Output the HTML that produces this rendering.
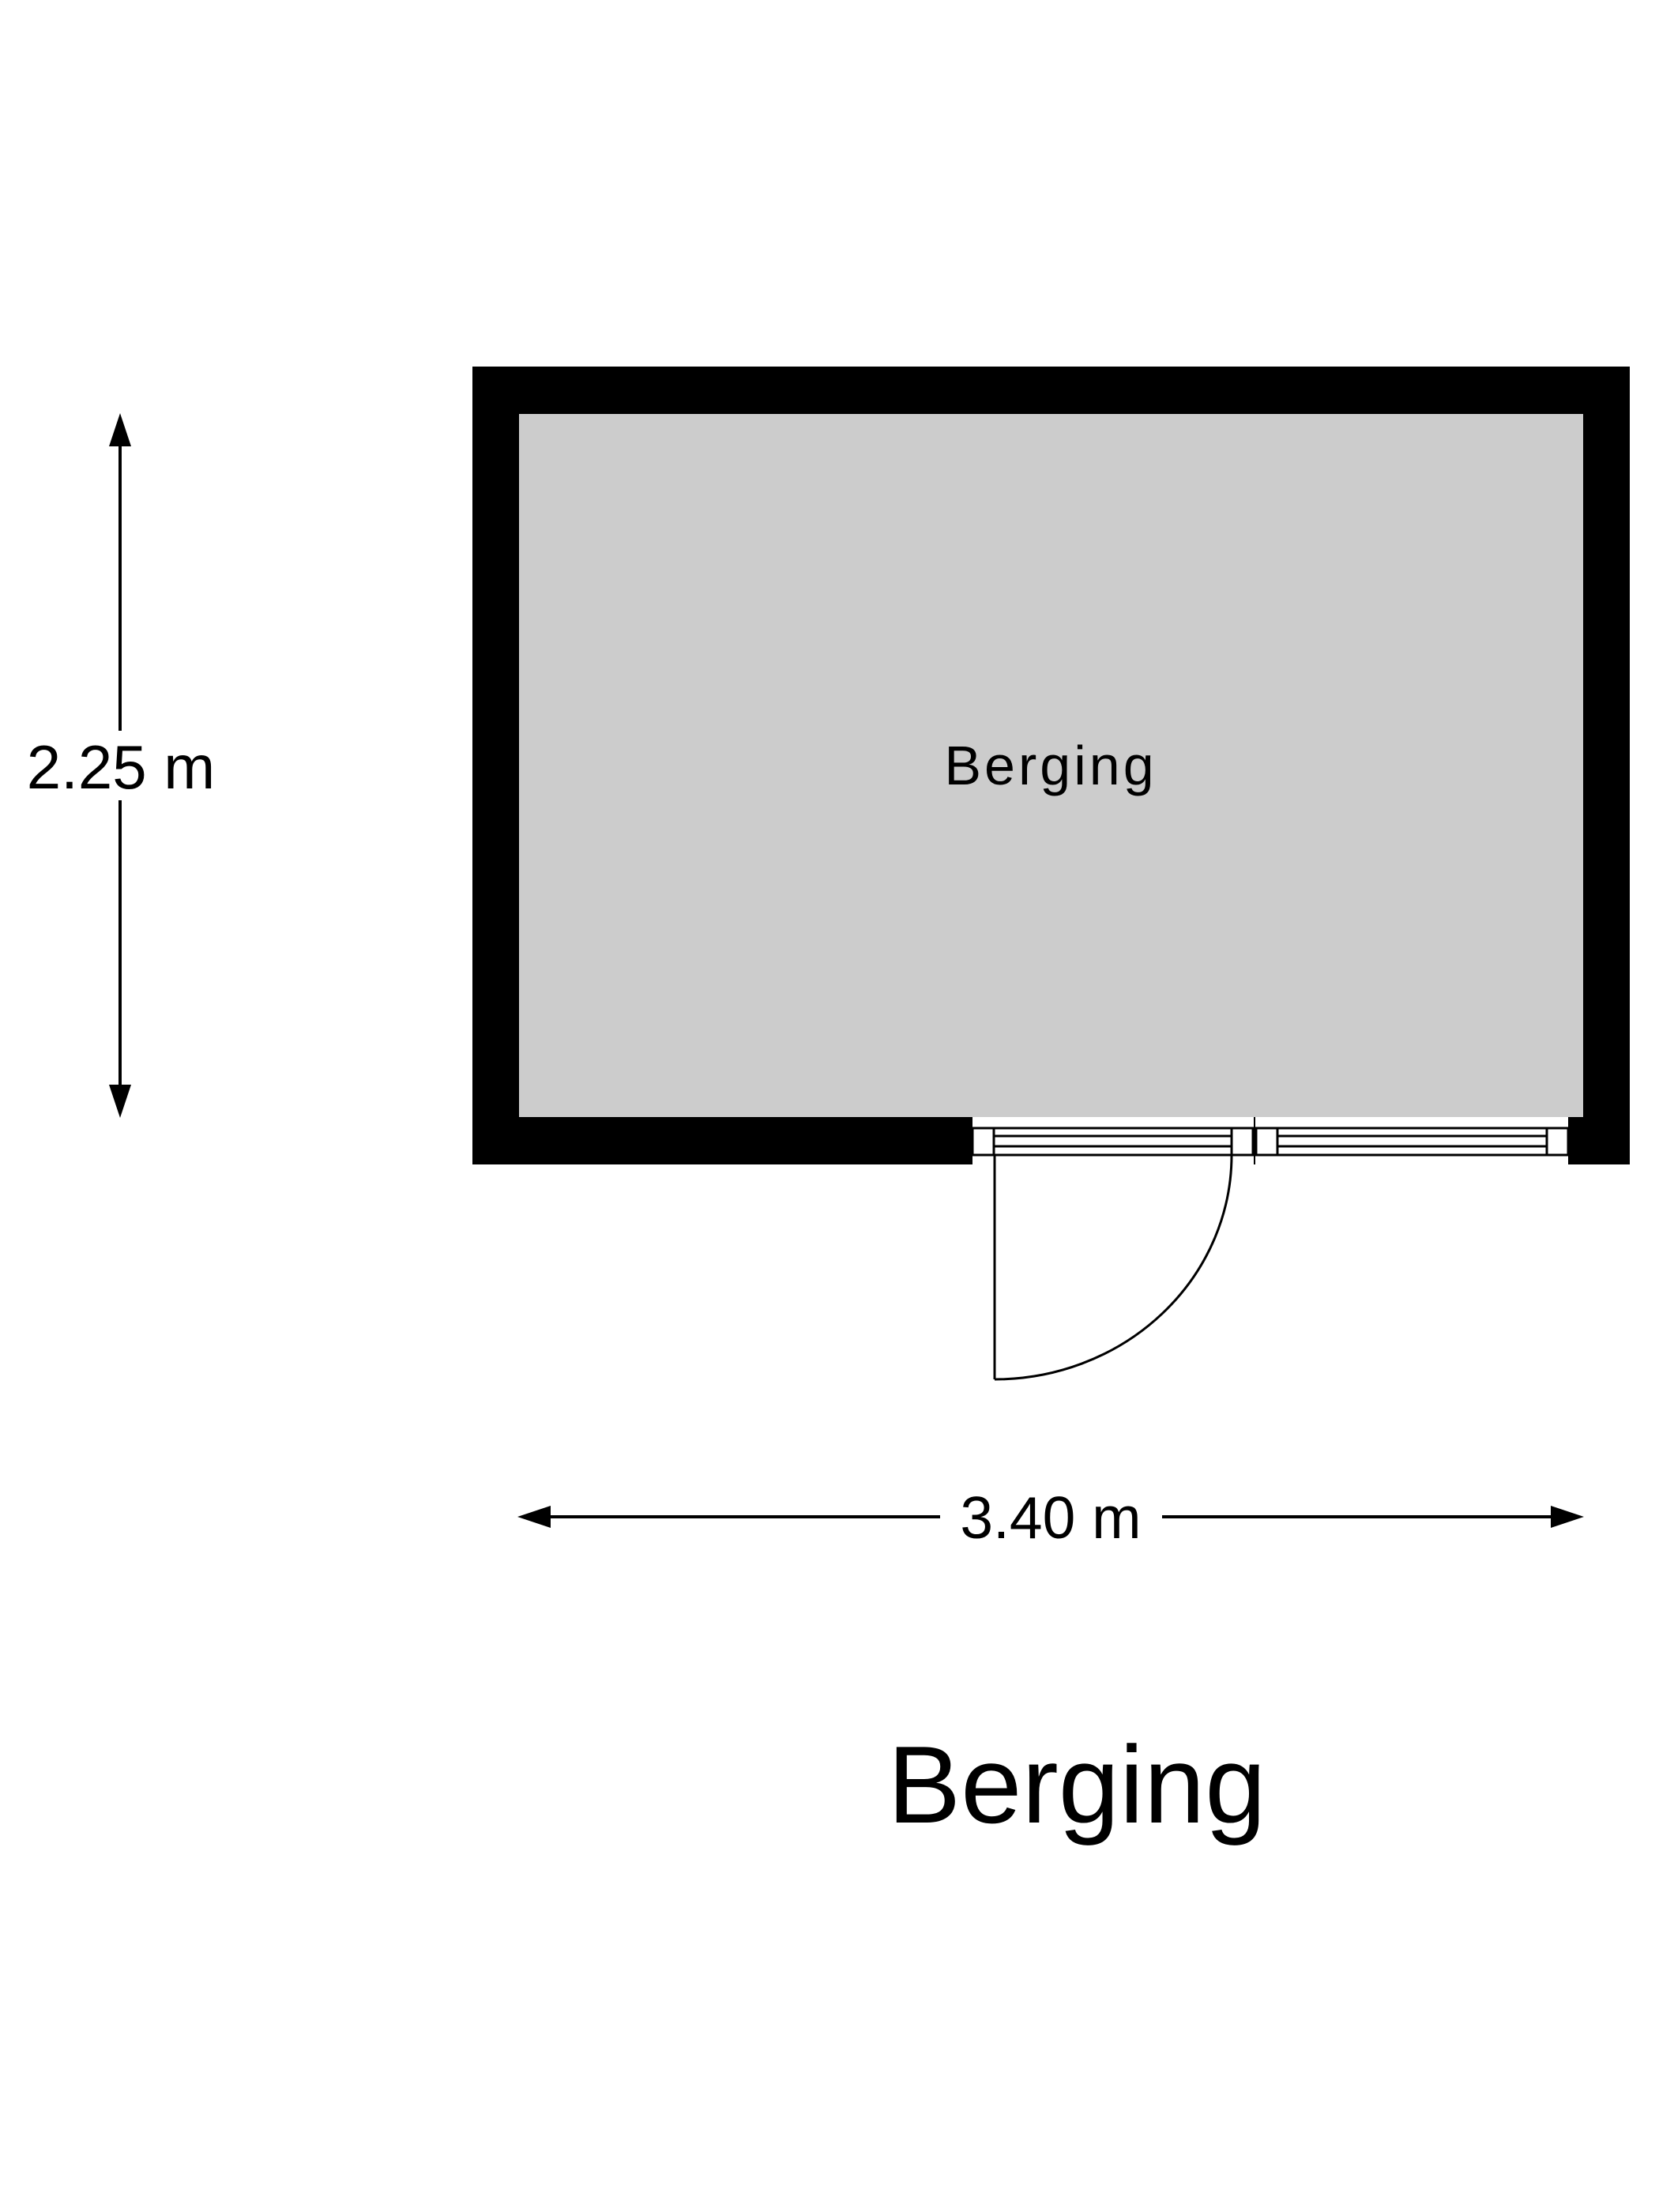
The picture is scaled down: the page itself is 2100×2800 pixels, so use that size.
<!DOCTYPE html>
<html><head><meta charset="utf-8"><style>
html,body{margin:0;padding:0;background:#fff;}
svg{display:block;}
text{font-family:"Liberation Sans",Arial,sans-serif;fill:#000;}
</style></head><body>
<svg width="2100" height="2800" viewBox="0 0 2100 2800" xmlns="http://www.w3.org/2000/svg">
<rect width="2100" height="2800" fill="#fff"/>
<!-- walls -->
<rect x="598" y="464" width="1465" height="1010" fill="#000"/>
<rect x="657" y="524" width="1347" height="890" fill="#cccccc"/>
<!-- opening -->
<rect x="1231" y="1414" width="754" height="60" fill="#fff"/>
<!-- window/door frame -->
<g stroke="#000" stroke-width="3" fill="none">
<line x1="1231" y1="1428" x2="1985" y2="1428"/>
<line x1="1231" y1="1462" x2="1985" y2="1462"/>
<rect x="1231" y="1428" width="27" height="34"/>
<line x1="1259" y1="1438" x2="1559" y2="1438"/>
<line x1="1259" y1="1451" x2="1559" y2="1451"/>
<rect x="1559" y="1428" width="27" height="34"/>
<rect x="1590" y="1428" width="27" height="34"/>
<line x1="1617" y1="1438" x2="1958" y2="1438"/>
<line x1="1617" y1="1451" x2="1958" y2="1451"/>
<rect x="1958" y="1428" width="27" height="34"/>
<line x1="1259" y1="1462" x2="1259" y2="1746"/>
<path d="M1559,1462 A300,284 0 0 1 1259,1746"/>
</g>
<line x1="1588" y1="1414" x2="1588" y2="1474" stroke="#000" stroke-width="2"/>
<!-- room label -->
<text x="1330" y="993" font-size="70" text-anchor="middle" letter-spacing="4">Berging</text>
<!-- vertical dimension -->
<g stroke="#000" stroke-width="4">
<line x1="152" y1="560" x2="152" y2="925"/>
<line x1="152" y1="1013" x2="152" y2="1378"/>
</g>
<polygon points="152,523 138,565 166,565" fill="#000"/>
<polygon points="152,1415 138,1373 166,1373" fill="#000"/>
<text x="153" y="998" font-size="78" text-anchor="middle">2.25 m</text>
<!-- horizontal dimension -->
<g stroke="#000" stroke-width="4">
<line x1="690" y1="1920" x2="1190" y2="1920"/>
<line x1="1471" y1="1920" x2="1970" y2="1920"/>
</g>
<polygon points="655,1920 697,1906 697,1934" fill="#000"/>
<polygon points="2005,1920 1963,1906 1963,1934" fill="#000"/>
<text x="1330" y="1947" font-size="75" text-anchor="middle">3.40 m</text>
<!-- title -->
<text x="1363" y="2307" font-size="139" text-anchor="middle">Berging</text>
</svg>
</body></html>
